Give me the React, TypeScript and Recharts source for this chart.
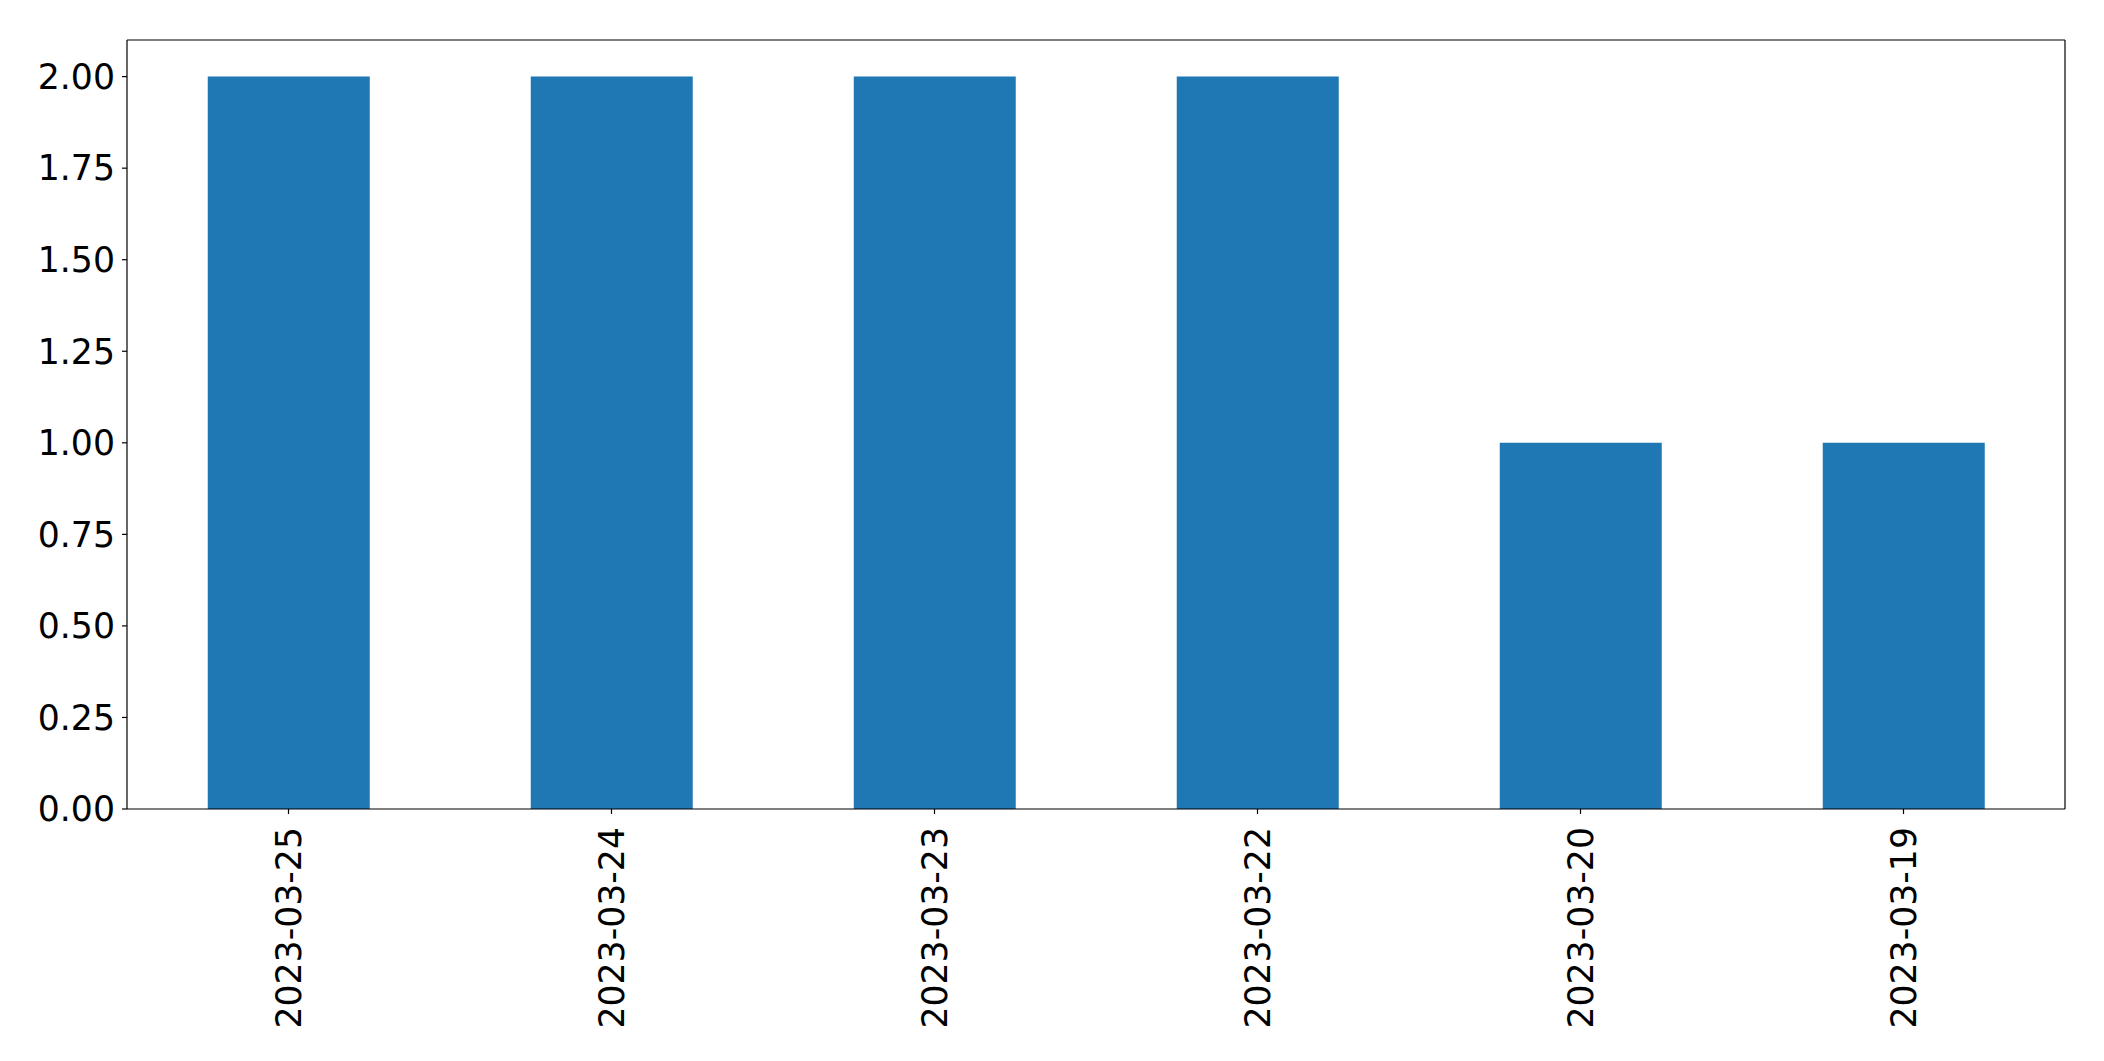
import React from 'react'
import { BarChart, Bar, XAxis, YAxis } from 'recharts'

const dates = ['2023-03-25', '2023-03-24', '2023-03-23', '2023-03-22', '2023-03-20', '2023-03-19']
const counts = [2, 2, 2, 2, 1, 1]
const yTicks = [0, 0.25, 0.5, 0.75, 1, 1.25, 1.5, 1.75, 2]

const data = dates.map((date, i) => ({ date, count: counts[i] }))

const FONT = '"DejaVu Sans", sans-serif'
const FONT_SIZE = 34.7
const SPINE = { stroke: '#000', strokeWidth: 1.2 }

const RotatedTick = ({ x, y, payload }: { x?: number; y?: number; payload?: { value: string } }) => (
  <text
    transform={`translate(${x},${(y ?? 0) + 11}) rotate(-90)`}
    textAnchor="end"
    dominantBaseline="central"
    fontFamily={FONT}
    fontSize={FONT_SIZE}
    fill="#000"
  >
    {payload?.value}
  </text>
)

export default function App() {
  return (
    <div style={{ position: 'absolute', left: 0, top: 0, background: '#fff' }}>
      <BarChart
        width={2104}
        height={1061}
        data={data}
        margin={{ top: 39, right: 38, left: 0, bottom: 0 }}
        barCategoryGap="25%"
      >
        <XAxis
          dataKey="date"
          height={252}
          interval={0}
          tick={<RotatedTick />}
          tickSize={5}
          tickLine={SPINE}
          axisLine={SPINE}
        />
        <XAxis
          xAxisId="top"
          dataKey="date"
          orientation="top"
          height={1}
          tick={false}
          tickLine={false}
          axisLine={SPINE}
        />
        <YAxis
          width={127}
          domain={[0, 2.1]}
          ticks={yTicks}
          interval={0}
          tickFormatter={(v: number) => v.toFixed(2)}
          tickSize={5}
          tickMargin={7}
          tick={{ fontFamily: FONT, fontSize: FONT_SIZE, fill: '#000' }}
          tickLine={SPINE}
          axisLine={SPINE}
        />
        <YAxis
          yAxisId="right"
          orientation="right"
          width={1}
          domain={[0, 2.1]}
          tick={false}
          tickLine={false}
          axisLine={SPINE}
        />
        <Bar dataKey="count" fill="#1f77b4" isAnimationActive={false} />
      </BarChart>
    </div>
  )
}
